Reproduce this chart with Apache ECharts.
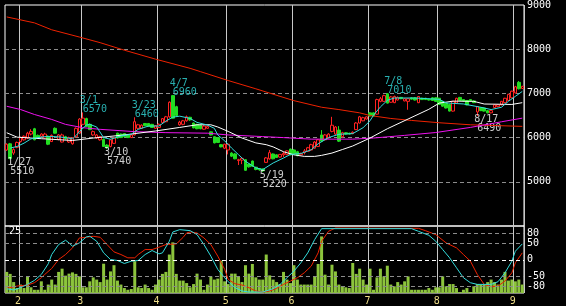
<!DOCTYPE html>
<html><head><meta charset="utf-8">
<script src="https://cdn.jsdelivr.net/npm/echarts@6/dist/echarts.min.js"></script>
<style>html,body{margin:0;padding:0;background:#000}#c{width:566px;height:306px}</style>
</head><body><div id="c"></div>
<script>
const dates = ['1/26','1/27','1/28','1/31',
'2/1','2/2','2/3','2/4','2/7','2/8','2/9','2/10','2/14','2/15','2/16','2/17','2/18','2/21','2/22','2/24','2/25','2/28',
'3/1','3/2','3/3','3/4','3/7','3/8','3/9','3/10','3/11','3/14','3/15','3/16','3/17','3/18','3/22','3/23','3/24','3/25','3/28','3/29','3/30','3/31',
'4/1','4/4','4/5','4/6','4/7','4/8','4/11','4/12','4/13','4/14','4/15','4/18','4/19','4/20','4/21','4/22','4/25','4/26','4/27','4/28',
'5/2','5/6','5/9','5/10','5/11','5/12','5/13','5/16','5/17','5/18','5/19','5/20','5/23','5/24','5/25','5/26','5/27','5/30','5/31',
'6/1','6/2','6/3','6/6','6/7','6/8','6/9','6/10','6/13','6/14','6/15','6/16','6/17','6/20','6/21','6/22','6/23','6/24','6/27','6/28','6/29','6/30',
'7/1','7/4','7/5','7/6','7/7','7/8','7/11','7/12','7/13','7/14','7/15','7/19','7/20','7/21','7/22','7/25','7/26','7/27','7/28','7/29',
'8/1','8/2','8/3','8/4','8/5','8/8','8/9','8/10','8/12','8/15','8/16','8/17','8/18','8/19','8/22','8/23','8/24','8/25','8/26','8/29','8/30','8/31',
'9/1','9/2','9/5'];

// [open, close, low, high]
const candles = [
[5720,5850,5700,5870],[5860,5530,5510,5880],[5650,5730,5610,5760],[5780,5890,5760,5910],
[5910,6000,5890,6020],[5950,6030,5930,6050],[5990,6100,5970,6130],[6080,6140,6050,6190],[6200,5950,5940,6220],
[6050,5990,5980,6070],[6030,6080,6010,6100],[5990,6080,5980,6110],[6030,5850,5830,6050],[5910,6050,5900,6070],
[6210,6100,6090,6230],[5960,6060,5940,6080],[5900,6060,5890,6090],[6020,5970,5960,6040],[5900,6000,5880,6020],
[5860,5990,5840,6010],[6020,6210,6000,6230],[6100,6420,6080,6440],
[6300,6440,6280,6570],[6430,6250,6240,6450],[6300,6180,6170,6320],[6060,6135,6040,6160],[5990,6060,5970,6080],
[5950,6020,5930,6040],[5960,5800,5790,5980],[5830,5780,5740,5850],[5800,5950,5780,5960],[5870,5990,5860,6010],
[6100,5990,5980,6110],[6080,6000,5990,6090],[6090,6020,6010,6100],[6070,6000,5990,6080],[6000,6060,5990,6070],
[6060,6360,6050,6460],[6210,6290,6190,6310],[6210,6280,6200,6300],[6320,6270,6260,6330],[6320,6250,6240,6330],
[6300,6230,6220,6310],[6210,6270,6200,6280],
[6230,6300,6220,6320],[6340,6430,6330,6440],[6360,6470,6350,6490],[6470,6800,6450,6820],[6950,6440,6430,6960],
[6700,6500,6480,6720],[6290,6350,6270,6380],[6300,6380,6280,6400],[6380,6470,6360,6500],[6460,6400,6380,6470],
[6330,6220,6210,6340],[6300,6200,6190,6310],[6280,6200,6190,6290],[6190,6260,6180,6280],[6210,6250,6200,6270],
[6130,6060,6050,6140],[6020,5880,5870,6030],[6000,5890,5880,6010],[5840,5790,5780,5850],[5760,5850,5740,5860],
[5720,5850,5620,5860],[5650,5580,5560,5670],[5630,5520,5510,5650],[5480,5500,5380,5520],[5490,5530,5400,5540],
[5500,5260,5250,5510],[5400,5340,5320,5410],[5470,5350,5340,5480],[5330,5280,5260,5340],[5300,5270,5250,5310],
[5290,5250,5220,5300],[5440,5540,5430,5560],[5520,5660,5500,5720],[5630,5520,5510,5640],[5610,5550,5540,5620],
[5560,5620,5550,5630],[5610,5640,5560,5680],[5620,5700,5600,5710],[5740,5610,5600,5750],
[5720,5630,5620,5740],[5680,5590,5580,5700],[5610,5640,5600,5660],[5660,5700,5620,5740],[5690,5770,5680,5790],
[5720,5840,5710,5860],[5760,5900,5750,5920],[5800,5950,5790,5970],[6060,5920,5900,6170],[5950,6060,5940,6080],
[5990,6080,5980,6100],[6140,6280,6120,6470],[6080,6240,6060,6260],[6170,5920,5900,6260],[6020,6110,6000,6130],
[6110,6080,6070,6120],[6100,6080,6070,6110],[6090,6120,6080,6140],[6180,6330,6170,6350],[6330,6470,6320,6490],
[6380,6450,6370,6470],[6420,6470,6410,6480],
[6560,6490,6480,6570],[6560,6490,6480,6570],[6530,6860,6520,6880],[6820,6880,6800,6920],[6820,6950,6810,6970],
[6990,6780,6770,7010],[6800,6920,6790,6940],[6790,6930,6780,6950],[6850,6910,6840,6930],[6910,6880,6870,6920],
[6830,6880,6820,6890],[6820,6880,6630,6890],[6900,6870,6860,6910],[6900,6850,6840,6910],[6790,6930,6780,6940],
[6890,6860,6850,6900],[6890,6860,6850,6900],[6870,6850,6840,6880],[6900,6840,6830,6910],[6900,6820,6810,6910],
[6890,6750,6740,6900],[6820,6710,6700,6830],[6780,6670,6660,6790],[6750,6600,6590,6760],[6600,6820,6590,6830],
[6780,6890,6770,6900],[6910,6840,6830,6920],[6860,6830,6820,6870],[6840,6740,6730,6850],[6860,6830,6820,6870],
[6830,6790,6780,6840],[6580,6700,6490,6710],[6680,6610,6600,6690],[6670,6600,6590,6680],[6610,6560,6550,6620],
[6560,6610,6550,6620],[6680,6740,6670,6750],[6700,6740,6690,6750],[6740,6820,6730,6830],[6790,6890,6780,6900],
[6840,6980,6830,6990],[6900,7050,6890,7060],
[7010,7150,7000,7170],[7250,7105,7090,7280],[7110,7160,7100,7170]];

const volume = [8.5,7.7,4.4,2,3.4,2,6.7,2.3,1.3,1.3,4.7,1.3,3.4,5.4,3.4,8.5,9.8,7,7.8,8.3,
7.7,6.7,2.3,2.3,4.7,6.3,5.4,4.4,11.8,5.4,8.7,11.2,5,3.4,2,1.3,1.6,12.8,2.3,2,
3.4,2,1.3,3.4,5.4,7.7,8.5,15.5,20.4,7.7,
5,5,4,2.3,3.6,7.8,5.4,1.3,3.4,6.7,5.4,5.8,13,4.7,3.6,7.8,7.8,6.7,4.4,11.2,
7.8,11.7,6.3,5.4,5.4,15.5,7.1,5.4,4.4,3.6,8.5,5.4,4,11.2,5.4,3.4,3.4,3.4,3.4,6.7,
11.7,22.8,7.4,3.4,11.4,8.7,3.4,2.7,2.3,2,12.1,7.7,9.8,5.4,3.4,9.8,
1.3,6.3,9.8,6.7,11,3.4,2.7,4.4,3.4,4.7,6.7,1.3,1.3,1.3,1.3,1.3,2,1.3,2.3,2.3,
6.7,2.7,3.6,3.6,2,0.4,1.3,2,0.4,2.7,3.6,3.4,3.4,4.4,5.4,4.4,3.4,5.4,8.5,5,
5.4,4.7,5.4,3.4];

// moving averages: [dayIndex, value]
const maShort = [[1,5762],[3,5800],[5,5874],[7,5971],[9,6000],[11,6023],[14,6023],[17,6000],[19,5971],[20,6045],[21,6135],[23,6284],[24,6300],[26,6240],[28,6000],[30,5963],[33,6038],[36,6075],[38,6187],[41,6262],[44,6262],[46,6374],[48,6463],[50,6485],[53,6433],[55,6344],[58,6284],[60,6210],[61,6060],[63,5926],[65,5762],[67,5613],[69,5464],[72,5315],[74,5277],[77,5426],[80,5538],[82,5620],[85,5640],[88,5725],[90,5860],[93,6000],[96,6075],[100,6090],[103,6224],[105,6380],[106,6508],[108,6694],[110,6843],[112,6896],[118,6896],[125,6866],[127,6784],[132,6761],[137,6687],[140,6634],[143,6687],[145,6821],[147,6933],[149,7045]];
const maMid = [[0,6110],[3,6010],[10,5975],[19,5935],[25,5990],[34,6060],[43,6150],[50,6230],[55,6290],[59,6290],[61,6240],[64,6140],[68,5990],[72,5880],[75,5840],[77,5790],[80,5680],[83,5610],[86,5575],[89,5575],[91,5598],[94,5650],[97,5730],[100,5810],[105,5990],[110,6200],[116,6420],[122,6640],[125,6780],[129,6825],[135,6820],[138,6760],[146,6750],[149,6790]];
const maLong = [[0,6709],[4,6635],[8,6523],[13,6411],[17,6299],[22,6224],[27,6187],[37,6135],[46,6112],[58,6100],[64,6060],[74,6023],[80,6000],[88,5965],[100,5965],[106,5990],[115,6050],[124,6115],[134,6230],[143,6358],[149,6440]];
const ma200 = [[0,8730],[8,8596],[13,8439],[21,8275],[27,8148],[34,7977],[43,7775],[53,7567],[56,7492],[64,7291],[72,7104],[79,6933],[83,6836],[91,6687],[96,6634],[102,6560],[105,6500],[111,6433],[117,6388],[125,6336],[134,6290],[149,6254]];

// oscillator (RCI) lines: [dayIndex, value]
const rciShort = [[0,-87],[2,-91],[4,-84],[6,-74],[8,-62],[10,-44],[12,-12],[13,16],[15,46],[17,59],[18,51],[19,41],[21,51],[23,69],[24,71],[26,56],[28,21],[30,1],[32,-2],[34,-11],[36,-4],[38,-2],[40,16],[42,28],[44,18],[45,21],[47,56],[48,84],[50,91],[53,88],[55,76],[57,46],[59,11],[61,-29],[63,-54],[64,-66],[66,-84],[68,-94],[70,-97],[74,-97],[77,-87],[79,-74],[81,-54],[83,-34],[85,-9],[87,21],[89,61],[91,94],[105,94],[117,94],[119,86],[122,74],[124,56],[126,31],[128,6],[130,-24],[132,-54],[134,-69],[136,-74],[140,-74],[142,-66],[144,-39],[146,-4],[147,26],[149,48]];
const rciLong = [[0,-86],[3,-79],[6,-76],[8,-69],[10,-54],[11,-44],[13,-26],[15,1],[17,16],[19,36],[21,66],[23,68],[25,71],[27,68],[29,46],[31,24],[33,16],[35,6],[37,6],[38,16],[40,31],[42,31],[44,38],[46,46],[49,48],[51,68],[52,81],[53,84],[55,81],[57,66],[59,46],[61,11],[63,-29],[64,-59],[66,-72],[68,-76],[70,-84],[72,-94],[74,-97],[76,-94],[78,-86],[80,-74],[82,-64],[84,-54],[86,-39],[88,-19],[90,21],[91,56],[93,86],[95,96],[119,95],[121,88],[124,76],[127,51],[130,36],[132,16],[134,-4],[136,-44],[138,-74],[140,-81],[142,-79],[144,-64],[146,-39],[147,-9],[149,21]];

const highMarks = [['3/1',6570],['3/23',6460],['4/7',6960],['7/8',7010]];
const lowMarks = [['1/27',5510],['3/10',5740],['5/19',5220],['8/17',6490]];
const monthStarts = ['2/1','3/1','4/1','5/2','6/1','7/1','8/1','9/1'];
const rciTicks = [80,50,0,-50,-80];
const volTicks = [25];

const FONT = 'DejaVu Sans Mono';
const monthIdx = monthStarts.map(d => dates.indexOf(d));
const ohlc = candles.map(c => [c[0], c[1], c[2], c[3]]);

function markLabel(color, pos, off){
  return {show:true, position:pos, distance:0, align:'left', offset:off,
    formatter: p => '{d|' + p.value[0] + '}\n{p|' + p.value[1] + '}',
    rich:{d:{color:color,fontFamily:FONT,fontSize:10,lineHeight:9},
          p:{color:color,fontFamily:FONT,fontSize:10,lineHeight:9,padding:[0,0,0,3]}}};
}

const chart = echarts.init(document.getElementById('c'), null, {renderer:'canvas'});
chart.setOption({
  backgroundColor:'#000',
  animation:false,
  grid:[
    {left:5,right:42,top:2,height:224,show:true,borderColor:'#fff',borderWidth:1,backgroundColor:'rgba(0,0,0,0)'},
    {left:5,right:42,top:226,height:67,show:true,borderColor:'#fff',borderWidth:1,backgroundColor:'rgba(0,0,0,0)'}
  ],
  xAxis:[
    {type:'category',gridIndex:0,data:dates,boundaryGap:true,axisLine:{show:false},axisTick:{show:false},axisLabel:{show:false},
     splitLine:{show:true,interval:(i)=>monthIdx.includes(i),lineStyle:{color:'#c8c8c8',width:1}}},
    {type:'category',gridIndex:1,data:dates,boundaryGap:true,axisLine:{show:false},axisTick:{show:false},
     axisLabel:{show:true,interval:(i)=>monthIdx.includes(i),formatter:v=>v.split('/')[0],color:'#eedd88',fontFamily:FONT,fontSize:10,margin:3,padding:[0,5,0,0]},
     splitLine:{show:true,interval:(i)=>monthIdx.includes(i),lineStyle:{color:'#c8c8c8',width:1}}}
  ],
  yAxis:[
    {type:'value',gridIndex:0,position:'right',min:4000,max:9000,interval:1000,axisLine:{show:false},axisTick:{show:false},
     axisLabel:{color:'#fff',fontFamily:FONT,fontSize:10,margin:3,showMinLabel:false,padding:[4,0,0,0],formatter:v=>String(v)},
     splitLine:{show:true,showMinLine:false,showMaxLine:false,lineStyle:{color:'#8c8c8c',type:[4,3],width:1}}},
    {type:'value',gridIndex:1,position:'right',min:-100,max:102,interval:10,axisLine:{show:false},axisTick:{show:false},
     axisLabel:{color:'#fff',fontFamily:FONT,fontSize:10,margin:3,showMaxLabel:false,formatter:v=>rciTicks.includes(v)?String(v):''},
     splitLine:{show:false}},
    {type:'value',gridIndex:1,position:'left',min:0,max:27,interval:25,axisLine:{show:false},axisTick:{show:false},
     axisLabel:{inside:true,color:'#fff',fontFamily:FONT,fontSize:10,margin:4,formatter:v=>volTicks.includes(v)?String(v):''},
     splitLine:{show:false}}
  ],
  series:[
    {type:'bar',xAxisIndex:1,yAxisIndex:2,data:volume,barWidth:3,itemStyle:{color:'#8cc43c'},silent:true},
    {type:'line',xAxisIndex:1,yAxisIndex:1,data:rciLong,symbol:'none',lineStyle:{color:'#ee2200',width:1},silent:true},
    {type:'line',xAxisIndex:1,yAxisIndex:1,data:rciShort,symbol:'none',lineStyle:{color:'#33dddd',width:1},silent:true,
     markLine:{silent:true,symbol:'none',label:{show:false},animation:false,
       data:[{yAxis:80,lineStyle:{color:'#8c8c8c',type:[4,3],width:1}},{yAxis:50,lineStyle:{color:'#8c8c8c',type:[4,3],width:1}},
             {yAxis:0,lineStyle:{color:'#ffffff',type:[4,3],width:1}},
             {yAxis:-50,lineStyle:{color:'#8c8c8c',type:[4,3],width:1}},{yAxis:-80,lineStyle:{color:'#8c8c8c',type:[4,3],width:1}}]}},
    {type:'candlestick',xAxisIndex:0,yAxisIndex:0,data:ohlc,barWidth:3,silent:true,
     itemStyle:{color:'#000',color0:'#22dd22',borderColor:'#ff2222',borderColor0:'#22dd22',borderWidth:1}},
    {type:'line',xAxisIndex:0,yAxisIndex:0,data:ma200,symbol:'none',lineStyle:{color:'#ee2200',width:1},silent:true},
    {type:'line',xAxisIndex:0,yAxisIndex:0,data:maLong,symbol:'none',lineStyle:{color:'#ee11ee',width:1},silent:true},
    {type:'line',xAxisIndex:0,yAxisIndex:0,data:maMid,symbol:'none',lineStyle:{color:'#ffffff',width:1},silent:true},
    {type:'line',xAxisIndex:0,yAxisIndex:0,data:maShort,symbol:'none',lineStyle:{color:'#33dddd',width:1},silent:true},
    {type:'scatter',xAxisIndex:0,yAxisIndex:0,data:highMarks,symbolSize:0,silent:true,label:markLabel('#33dddd','top',[-3,2])},
    {type:'scatter',xAxisIndex:0,yAxisIndex:0,data:lowMarks,symbolSize:0,silent:true,label:markLabel('#ffffff','bottom',[-3,-1])}
  ]
});
</script>
</body></html>
